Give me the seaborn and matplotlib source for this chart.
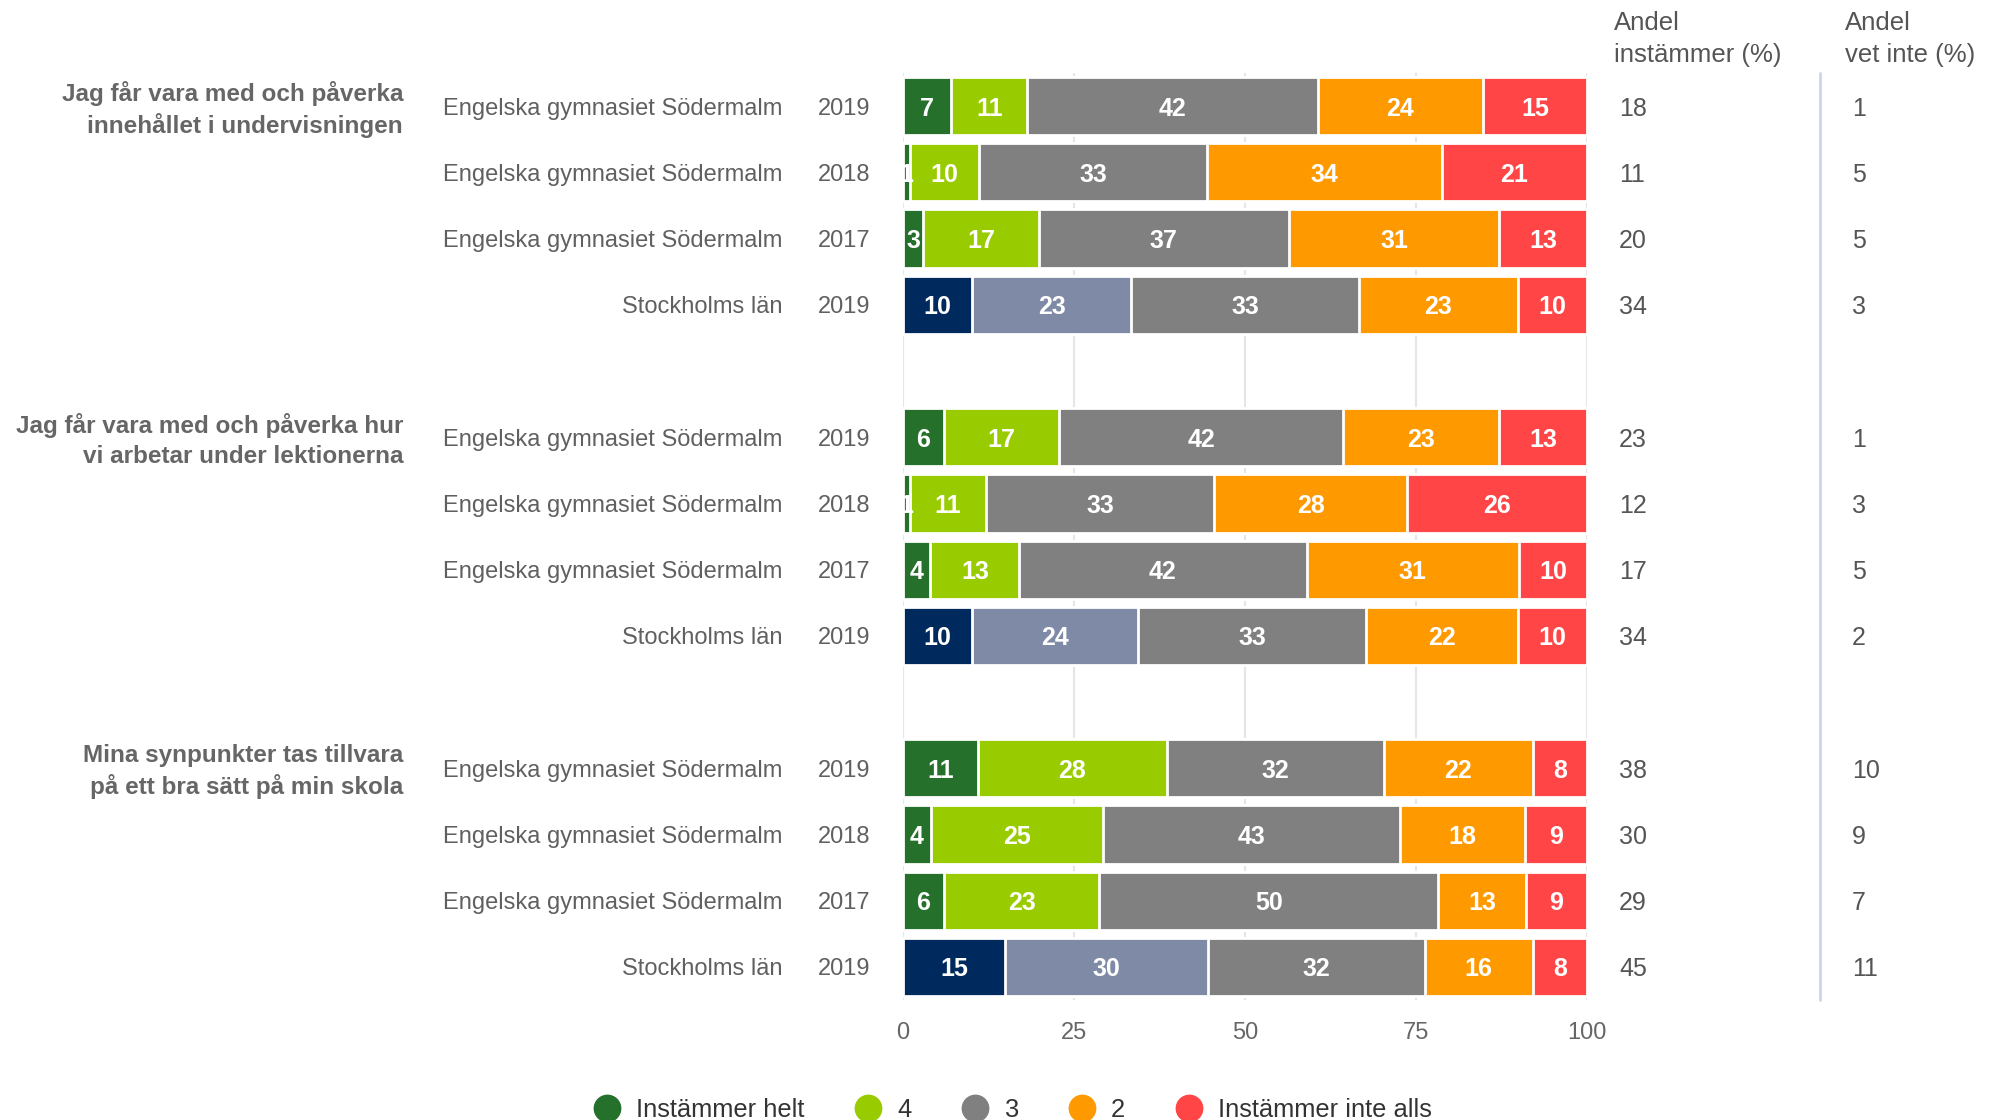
import matplotlib
matplotlib.use("Agg")
import matplotlib.pyplot as plt
from matplotlib.lines import Line2D
import seaborn as sns
import pandas as pd
import numpy as np

# Frågor (grupper) och rader
fragor = [
    "Jag får vara med och påverka\ninnehållet i undervisningen",
    "Jag får vara med och påverka hur\nvi arbetar under lektionerna",
    "Mina synpunkter tas tillvara\npå ett bra sätt på min skola",
]
enheter = ["Engelska gymnasiet Södermalm", "Engelska gymnasiet Södermalm",
           "Engelska gymnasiet Södermalm", "Stockholms län"]
ar = ["2019", "2018", "2017", "2019"]

# Svarsandelar (%) per rad, i ordning fråga 1..3, rad 1..4
instammer_helt = [7, 1, 3, 10, 6, 1, 4, 10, 11, 4, 6, 15]
svar_4 = [11, 10, 17, 23, 17, 11, 13, 24, 28, 25, 23, 30]
svar_3 = [42, 33, 37, 33, 42, 33, 42, 33, 32, 43, 50, 32]
svar_2 = [24, 34, 31, 23, 23, 28, 31, 22, 22, 18, 13, 16]
instammer_inte = [15, 21, 13, 10, 13, 26, 10, 10, 8, 9, 9, 8]

andel_instammer = [18, 11, 20, 34, 23, 12, 17, 34, 38, 30, 29, 45]
andel_vet_inte = [1, 5, 5, 3, 1, 3, 5, 2, 10, 9, 7, 11]

legend_namn = ["Instämmer helt", "4", "3", "2", "Instämmer inte alls"]
farger = ["#25702A", "#99CC00", "#808080", "#FF9900", "#FF4545"]
farger_lan = ["#002A5E", "#7F8AA6", "#808080", "#FF9900", "#FF4545"]

sns.set_style("white")
plt.rcParams["font.family"] = ["Liberation Sans", "DejaVu Sans"]

# Kategoriordning med tomma platser mellan frågorna
slots = []
rad_slot = []
for g in range(len(fragor)):
    for r in range(len(enheter)):
        s = f"g{g}r{r}"
        slots.append(s)
        rad_slot.append(s)
    if g < len(fragor) - 1:
        slots.append(f"tom{g}")

varden = [instammer_helt, svar_4, svar_3, svar_2, instammer_inte]
segment = np.array(varden, dtype=float).T
segment = segment / segment.sum(axis=1, keepdims=True) * 100
kum = np.cumsum(segment, axis=1)
ar_lan = [enheter[i % 4] == "Stockholms län" for i in range(len(rad_slot))]

fig = plt.figure(figsize=(19.94, 11.2), dpi=100, facecolor="white")
ax = fig.add_axes([0.4529, 0.1071, 0.3430, 0.8277])

# Staplade staplar: rita kumulativa summor bakifrån
for k in range(4, -1, -1):
    df = pd.DataFrame({"slot": rad_slot, "slut": kum[:, k]})
    pal = {s: (farger_lan[k] if ar_lan[i] else farger[k]) for i, s in enumerate(rad_slot)}
    sns.barplot(data=df, x="slut", y="slot", order=slots, hue="slot", palette=pal,
                legend=False, orient="h", width=0.88, edgecolor="white",
                linewidth=2, saturation=1, ax=ax, zorder=2)

# Värdeetiketter i segmenten
for i, s in enumerate(rad_slot):
    y = slots.index(s)
    start = 0
    for k in range(5):
        mitt = start + segment[i, k] / 2
        ax.text(mitt, y, str(varden[k][i]), ha="center", va="center_baseline",
                color="white", fontsize=18, fontweight="bold", zorder=5)
        start = kum[i, k]

ax.set_xlim(0, 100)
ax.set_ylim(len(slots) - 0.5, -0.5)
ax.set_xticks([0, 25, 50, 75, 100])
ax.set_xticklabels(["0", "25", "50", "75", "100"], fontsize=17, color="#666666")
ax.tick_params(axis="x", length=0, pad=16)
ax.set_yticks(np.arange(len(slots) + 1) - 0.5)
ax.set_yticklabels([])
ax.tick_params(axis="y", length=16, width=1.8, color="#ccd6eb")
ax.set_xlabel("")
ax.set_ylabel("")
for sp in ax.spines.values():
    sp.set_visible(False)
ax.grid(axis="x", color="#e6e6e6", linewidth=1.5, zorder=0)
ax.set_axisbelow(True)

trans = ax.get_yaxis_transform()
# Radetiketter
for i, s in enumerate(rad_slot):
    y = slots.index(s)
    ax.text(-0.177, y, enheter[i % 4], transform=trans, ha="right",
            va="center_baseline", fontsize=17, color="#606060")
    ax.text(-0.048, y, ar[i % 4], transform=trans, ha="right",
            va="center_baseline", fontsize=17, color="#606060")
    ax.text(1.047, y, str(andel_instammer[i]), transform=trans, ha="left",
            va="center_baseline", fontsize=18, color="#555555")
    ax.text(1.3874, y, str(andel_vet_inte[i]), transform=trans, ha="left",
            va="center_baseline", fontsize=18, color="#555555")

# Frågetexter
for g, txt in enumerate(fragor):
    y = slots.index(f"g{g}r0")
    ax.text(-0.731, y + 0.05, txt, transform=trans, ha="right", va="center",
            fontsize=17.5, fontweight="bold", color="#666666", linespacing=1.35)

# Kolumnrubriker och avdelare
fig.text(0.8094, 0.965, "Andel\ninstämmer (%)", ha="left", va="center",
         fontsize=18.5, color="#555555", linespacing=1.45)
fig.text(0.9253, 0.965, "Andel\nvet inte (%)", ha="left", va="center",
         fontsize=18.5, color="#555555", linespacing=1.45)
ax.plot([1.3406, 1.3406], [0, 1], transform=ax.transAxes, color="#ccd6eb",
        linewidth=2, clip_on=False)

handles = [Line2D([], [], marker="o", linestyle="", markersize=19, color=c) for c in farger]
fig.legend(handles, legend_namn, loc="center", bbox_to_anchor=(0.508, 0.009), ncol=5,
           frameon=False, fontsize=18.4, handlelength=1.0, handletextpad=0.63,
           columnspacing=2.0, borderpad=0, labelcolor="#333333")

fig.savefig("out.png", dpi=100, facecolor="white")
